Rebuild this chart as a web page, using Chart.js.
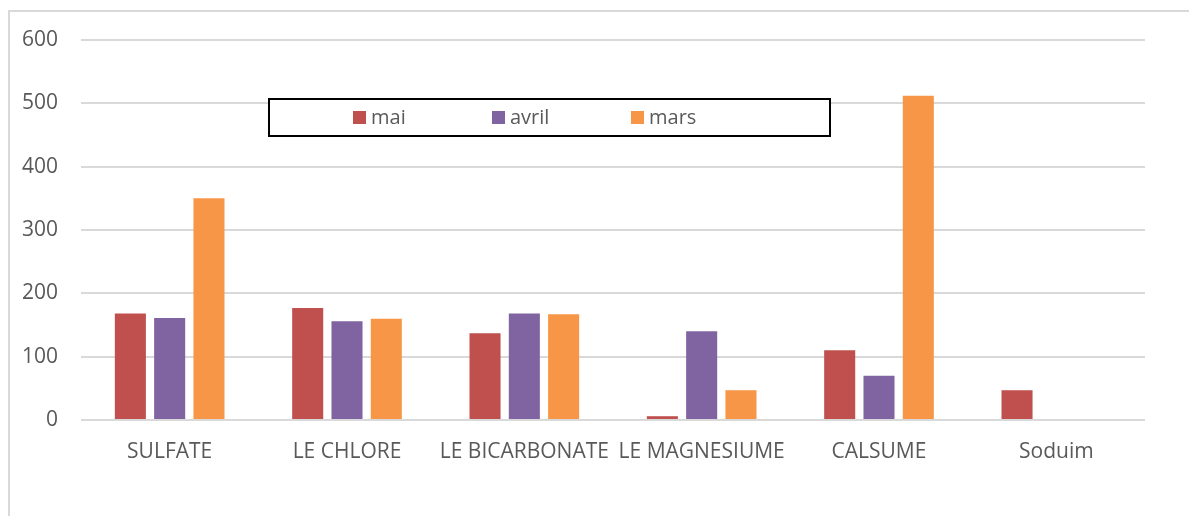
<!DOCTYPE html>
<html>
<head>
<meta charset="utf-8">
<script src="https://cdn.jsdelivr.net/npm/chart.js@4"></script>
<style>
  html, body { margin: 0; padding: 0; background: #fff; }
  body { width: 1189px; height: 516px; position: relative; overflow: hidden; }
  #frame { position: absolute; left: 8px; top: 10px; width: 1200px; height: 520px;
           border-left: 2px solid #d9d9d9; border-top: 2px solid #d9d9d9; }
  #wrap { position: absolute; left: 0; top: 0; width: 1189px; height: 516px; }
</style>
</head>
<body>
<div id="frame"></div>
<div id="wrap"><canvas id="c" width="1189" height="516"></canvas></div>
<script>
// Ions measured per month
const categories = ['SULFATE', 'LE CHLORE', 'LE BICARBONATE', 'LE MAGNESIUME', 'CALSUME', 'Soduim'];
const mai   = [168, 177, 137, 6, 110, 47];
const avril = [161, 156, 168, 140, 70, 0];
const mars  = [350, 160, 167, 47, 512, 0];
const yTicks = [0, 100, 200, 300, 400, 500, 600];

const FONT = '"Open Sans", "Noto Sans", sans-serif';
const TEXT = '#595959';

// Legend drawn inside a boxed frame over the plot
const boxedLegend = {
  id: 'boxedLegend',
  afterDraw(chart) {
    const ctx = chart.ctx;
    ctx.save();
    ctx.strokeStyle = '#000';
    ctx.lineWidth = 2;
    ctx.fillStyle = '#fff';
    ctx.fillRect(269, 99, 561, 37);
    ctx.strokeRect(269, 99, 561, 37);
    ctx.font = '20px ' + FONT;
    ctx.textBaseline = 'middle';
    chart.data.datasets.forEach((ds, i) => {
      const x = 353 + i * 139;
      ctx.fillStyle = ds.backgroundColor;
      ctx.fillRect(x, 111, 13, 13);
      ctx.fillStyle = TEXT;
      ctx.fillText(ds.label, x + 18, 118);
    });
    ctx.restore();
  }
};

new Chart(document.getElementById('c'), {
  type: 'bar',
  data: {
    labels: categories,
    datasets: [
      { label: 'mai',   data: mai,   backgroundColor: '#C0504D' },
      { label: 'avril', data: avril, backgroundColor: '#8064A2' },
      { label: 'mars',  data: mars,  backgroundColor: '#F79646' }
    ]
  },
  options: {
    responsive: false,
    animation: false,
    layout: { padding: { top: 40, right: 44, left: 0, bottom: 0 } },
    datasets: { bar: { categoryPercentage: 0.665, barPercentage: 0.79, borderWidth: 0 } },
    plugins: { legend: { display: false }, tooltip: { enabled: false } },
    scales: {
      x: {
        grid: { display: false, drawTicks: false },
        border: { display: false },
        ticks: { color: TEXT, font: { family: FONT, size: 21 }, padding: 19, maxRotation: 0, autoSkip: false },
        afterFit(scale) { scale.height = 96; }
      },
      y: {
        min: 0, max: 600,
        afterBuildTicks(scale) { scale.ticks = yTicks.map(v => ({ value: v })); },
        grid: { color: '#d9d9d9', lineWidth: 2, drawTicks: false },
        border: { display: false },
        ticks: { color: TEXT, font: { family: FONT, size: 21 }, padding: 23 },
        afterFit(scale) { scale.width = 81; }
      }
    }
  },
  plugins: [boxedLegend]
});
</script>
</body>
</html>
